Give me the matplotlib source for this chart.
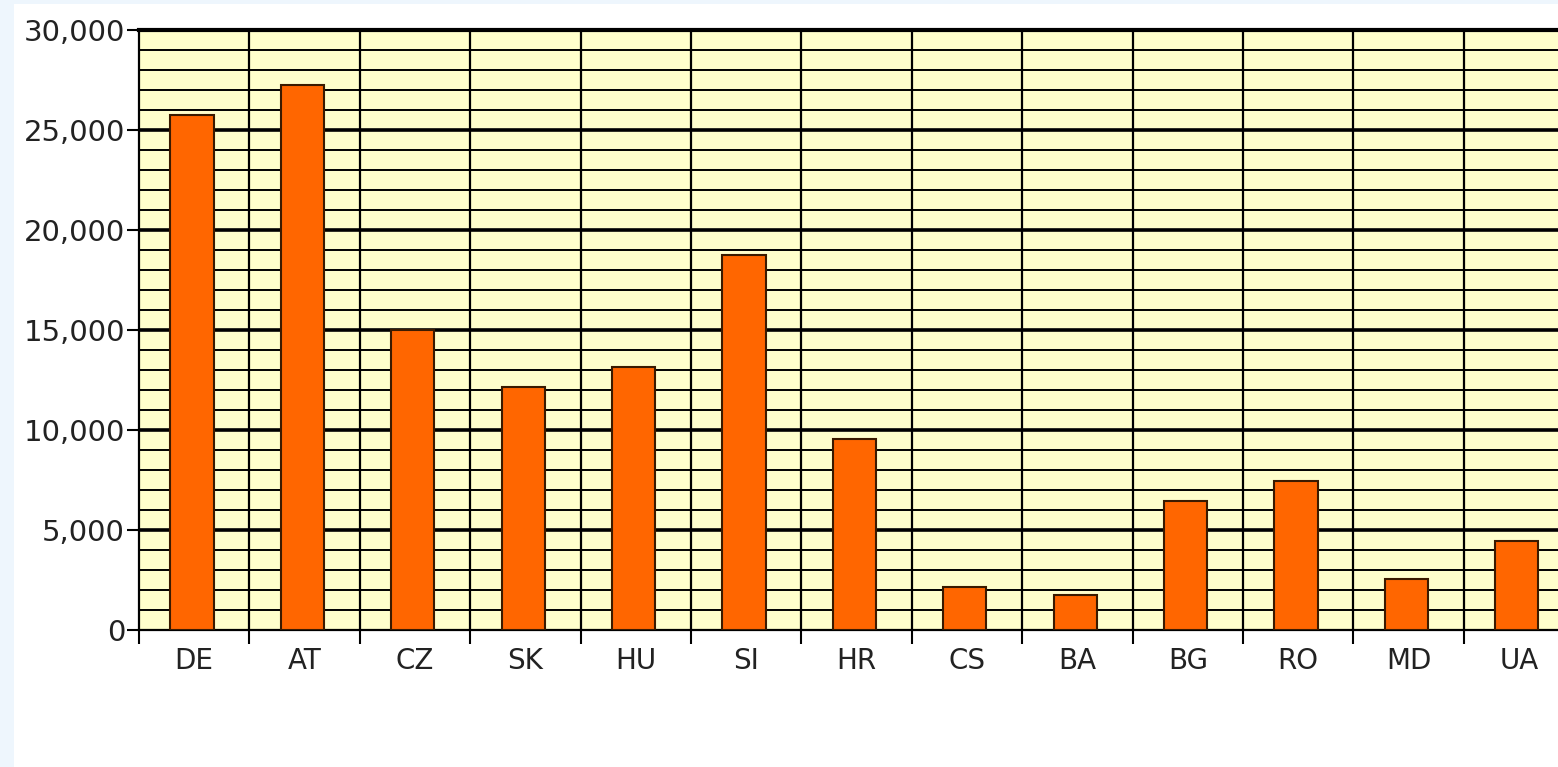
import matplotlib
matplotlib.use("Agg")
import matplotlib.pyplot as plt
from matplotlib.patches import Rectangle
import numpy as np

categories = ["DE", "AT", "CZ", "SK", "HU", "SI", "HR", "CS", "BA", "BG", "RO", "MD", "UA"]
values = [25750, 27250, 15000, 12150, 13150, 18750, 9550, 2150, 1750, 6450, 7450, 2550, 4450]
ytick_values = [0, 5000, 10000, 15000, 20000, 25000, 30000]
ytick_labels = ["0", "5,000", "10,000", "15,000", "20,000", "25,000", "30,000"]

W, H = 1558, 767
fig = plt.figure(figsize=(W / 100, H / 100), dpi=100, facecolor="#EEF6FD")
fig.patches.append(Rectangle((14 / W, 0), 1, 1 - 4 / H, transform=fig.transFigure,
                             facecolor="white", edgecolor="none", zorder=-10))

left, right, top, bottom = 139, 139 + 13 * 110.4, 30, 630
ax = fig.add_axes([left / W, 1 - bottom / H, (right - left) / W, (bottom - top) / H])
ax.set_zorder(5)
ax.set_facecolor("#FFFFCC")
ax.set_xlim(0, 13)
ax.set_ylim(0, 30000)

# grid lines
for v in range(1000, 30000, 1000):
    lw = 2.6 if v % 5000 == 0 else 1.4
    ax.axhline(v, color="black", lw=lw, zorder=1)
for i in range(1, 13):
    ax.axvline(i, color="black", lw=1.6, zorder=1)

x = np.arange(len(categories)) + 0.48
ax.bar(x, values, width=0.39, color="#FF6600", edgecolor="#3a1a00", linewidth=1.5, zorder=3)

ax.spines["top"].set_linewidth(3)
ax.spines["left"].set_linewidth(1.6)
ax.spines["bottom"].set_linewidth(1.6)
ax.spines["right"].set_visible(False)

ax.set_yticks(ytick_values)
ax.set_yticklabels(ytick_labels, fontsize=21, color="#222222")
ax.tick_params(axis="y", length=9, width=1.5, pad=1)

ax.set_xticks(np.arange(0, 14))
ax.set_xticklabels([])
ax.set_xticks(np.arange(len(categories)) + 0.5, minor=True)
ax.set_xticklabels(categories, minor=True, fontsize=20, color="#222222")
ax.tick_params(axis="x", which="major", length=10, width=1.5)
ax.tick_params(axis="x", which="minor", length=0, pad=12)

fig.savefig("out.png", dpi=100, facecolor=fig.get_facecolor())
